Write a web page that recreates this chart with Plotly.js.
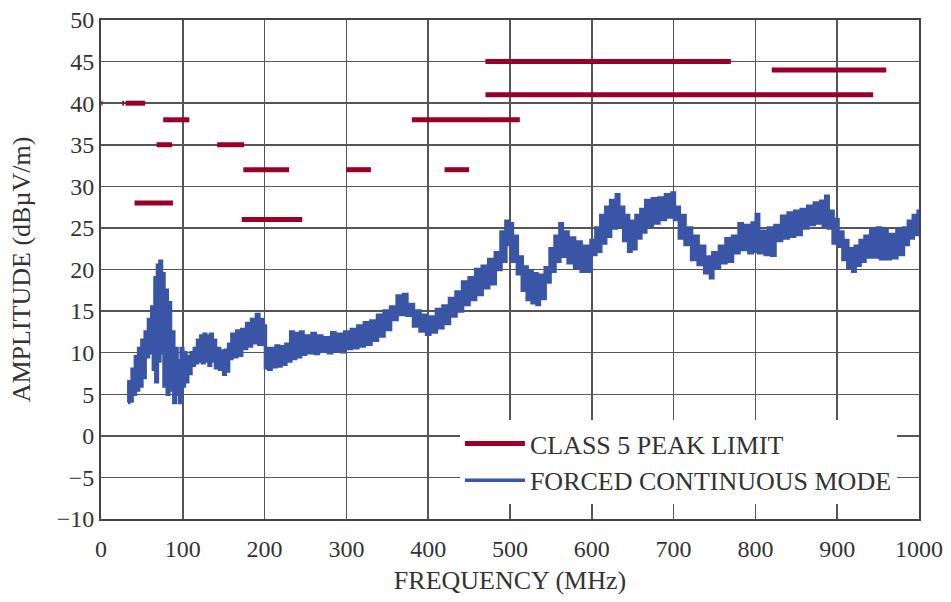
<!DOCTYPE html>
<html>
<head>
<meta charset="utf-8">
<script src="https://cdn.plot.ly/plotly-3.0.1.min.js"></script>
<style>html,body{margin:0;padding:0;background:#fff;}#chart{width:951px;height:602px;}</style>
</head>
<body>
<div id="chart"></div>
<script>
// CLASS 5 PEAK LIMIT bands (MHz) and levels (dBµV/m)
const limitStart = [0.53, 5.9, 26, 30, 41, 68, 76, 142, 174, 172, 300, 380, 420, 470, 470, 820];
const limitStop  = [1.8, 6.2, 28, 54, 88, 87, 108, 175, 230, 246, 330, 512, 450, 944, 770, 960];
const limitLevel = [40, 40, 40, 40, 28, 35, 38, 35, 32, 26, 32, 38, 32, 41, 45, 44];

// FORCED CONTINUOUS MODE measurement (MHz, dBµV/m)
const measFreq = [
  33,34,36,38,40,42,44,46,48,50,
  52,54,56,58,60,62,64,66,67,69,
  71,72,74,76,77,79,81,83,85,87,
  89,91,93,95,96,98,100,102,104,106,
  108,110,112,114,116,118,120,122,124,126,
  128,130,132,134,136,138,140,142,145,148,
  150,152,154,156,158,160,163,166,169,172,
  175,178,181,184,187,190,193,196,198,200,
  201,203,205,208,211,214,217,220,223,226,
  229,232,235,238,241,244,247,250,254,258,
  262,266,270,274,278,282,286,290,294,298,
  302,306,310,314,318,322,326,330,334,338,
  342,346,350,354,358,362,366,370,374,378,
  382,386,390,394,398,402,406,410,414,418,
  422,426,430,434,438,442,446,450,454,458,
  462,466,470,474,478,482,486,489,492,495,
  498,500,503,506,509,512,515,518,521,524,
  527,530,533,536,539,543,546,549,552,555,
  558,561,564,567,571,575,579,583,587,591,
  595,599,602,605,608,611,614,617,620,623,
  627,630,633,636,639,642,645,648,651,654,
  657,660,663,666,670,674,678,682,686,690,
  694,698,701,704,707,710,714,718,722,726,
  730,734,738,742,745,748,752,756,760,764,
  768,772,776,780,784,788,792,796,799,801,
  804,808,812,816,820,824,828,832,836,840,
  844,848,852,856,860,864,868,872,876,880,
  883,886,889,892,895,898,901,904,907,910,
  913,916,919,922,925,928,931,934,937,941,
  945,949,953,957,961,965,969,973,977,981,
  984,987,990,993,996,999,1000
];
const measAmp = [
  4.0,6.5,4.2,8.0,5.0,9.5,5.5,10.5,6.0,11.5,
  7.0,12.5,9.5,14.0,10.0,15.5,8.0,19.0,6.5,20.5,
  9.0,21.0,10.0,19.5,6.0,17.5,5.0,16.0,5.5,12.5,
  4.0,10.5,5.0,9.0,4.0,10.5,6.0,10.0,6.5,9.5,
  7.5,10.0,8.5,10.5,8.8,11.5,9.0,12.0,8.8,12.2,
  9.0,12.0,8.5,12.2,9.0,11.5,8.2,10.5,8.0,10.2,
  7.4,10.3,7.8,11.0,9.3,12.2,9.5,12.6,9.7,12.8,
  10.5,13.5,10.8,14.0,11.2,14.6,11.0,14.0,11.0,13.2,
  8.2,10.5,8.0,10.5,8.3,10.8,8.4,10.7,8.6,11.0,
  9.0,12.5,9.3,12.3,9.5,12.5,9.8,12.0,10.0,12.3,
  9.9,12.0,10.2,11.8,10.0,12.4,10.2,12.2,10.1,12.5,
  10.5,12.8,10.6,13.2,10.8,13.6,11.0,13.8,11.5,14.5,
  12.0,15.0,12.8,15.5,14.0,16.8,14.6,17.0,14.5,15.8,
  13.2,15.0,12.6,14.5,12.2,14.3,12.5,15.2,13.0,15.6,
  13.5,16.5,14.4,17.3,15.0,18.5,15.8,19.0,16.4,20.0,
  17.0,20.4,17.8,21.2,18.3,22.0,20.0,24.5,21.0,25.8,
  23.0,25.5,21.0,24.0,19.5,21.5,17.5,20.3,16.4,19.8,
  16.0,19.5,15.8,19.3,16.5,20.2,18.5,22.5,19.8,24.0,
  21.0,25.5,21.6,24.5,20.8,23.8,20.2,23.3,19.8,22.8,
  19.8,23.5,21.8,25.0,22.2,26.5,23.2,27.5,24.0,28.3,
  25.0,29.0,25.3,27.5,23.5,26.5,22.2,25.8,22.5,26.5,
  23.8,27.2,24.5,28.3,25.3,28.5,25.6,28.6,26.0,29.0,
  26.3,29.2,26.0,27.5,23.8,26.5,23.0,25.0,21.2,24.0,
  20.6,22.8,19.6,21.5,19.0,22.0,20.2,22.8,20.8,23.7,
  21.0,24.0,22.0,25.5,22.4,25.3,22.0,25.6,22.2,26.6,
  22.0,24.6,21.8,25.0,21.7,25.3,23.5,26.4,23.8,26.8,
  24.0,27.0,24.2,27.2,25.0,27.6,25.4,28.0,25.6,28.2,
  25.3,28.8,25.0,27.0,23.2,26.0,22.8,24.5,21.2,23.5,
  20.2,22.5,19.8,22.8,20.5,23.5,21.0,24.0,21.5,24.8,
  21.5,25.0,21.3,24.8,21.3,24.2,21.4,24.8,21.8,25.0,
  23.0,25.8,23.8,26.5,24.2,27.0,25.5
];

const xTickVals = [0,100,200,300,400,500,600,700,800,900,1000];
const yTickVals = [-10,-5,0,5,10,15,20,25,30,35,40,45,50];

const seriesNames = ['CLASS 5 PEAK LIMIT', 'FORCED CONTINUOUS MODE'];

// build limit segments separated by gaps
const limX = [], limY = [];
for (let i = 0; i < limitStart.length; i++) {
  limX.push(limitStart[i], limitStop[i], null);
  limY.push(limitLevel[i], limitLevel[i], null);
}

const FONT = 'Liberation Serif, Times New Roman, serif';

const traces = [
  {
    x: limX, y: limY, type: 'scatter', mode: 'lines',
    name: seriesNames[0],
    line: {color: '#990028', width: 5},
    connectgaps: false, hoverinfo: 'skip'
  },
  {
    x: measFreq, y: measAmp, type: 'scatter', mode: 'lines',
    name: seriesNames[1],
    line: {color: '#3a55a5', width: 3.5, shape: 'hv'}
  }
];

const layout = {
  width: 951, height: 602,
  margin: {l: 101, r: 32, t: 20, b: 83},
  paper_bgcolor: '#fff', plot_bgcolor: '#fff',
  font: {family: FONT, color: '#333', size: 24},
  showlegend: true,
  legend: {
    x: 0.973, xanchor: 'right', y: 0.03, yanchor: 'bottom',
    bgcolor: '#fff', borderwidth: 0,
    font: {family: FONT, size: 26, color: '#333'},
    itemwidth: 60, tracegroupgap: 0
  },
  xaxis: {
    range: [0, 1000], tickvals: xTickVals, ticks: '',
    ticklabelstandoff: 7,
    showgrid: true, gridcolor: '#555', gridwidth: 1.5,
    showline: true, mirror: true, linecolor: '#444', linewidth: 2,
    zeroline: false,
    tickfont: {family: FONT, size: 24, color: '#333'},
    title: {text: 'FREQUENCY (MHz)', font: {family: FONT, size: 26, color: '#333'}, standoff: 10}
  },
  yaxis: {
    range: [-10, 50], tickvals: yTickVals, ticks: '',
    showgrid: true, gridcolor: '#555', gridwidth: 1.5,
    showline: true, mirror: true, linecolor: '#444', linewidth: 2,
    zeroline: false,
    tickfont: {family: FONT, size: 24, color: '#333'},
    title: {text: 'AMPLITUDE (dBµV/m)', font: {family: FONT, size: 26, color: '#333'}, standoff: 19}
  }
};

Plotly.newPlot('chart', traces, layout, {displayModeBar: false, staticPlot: true});
</script>
</body>
</html>
